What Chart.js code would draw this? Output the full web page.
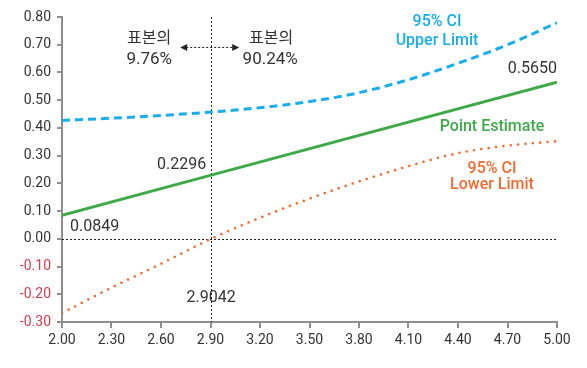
<!DOCTYPE html>
<html>
<head>
<meta charset="utf-8">
<script src="https://cdn.jsdelivr.net/npm/chart.js@4.4.1/dist/chart.umd.min.js"></script>
<style>
  html, body { margin: 0; padding: 0; background: #fff; }
  #wrap { width: 587px; height: 368px; }
</style>
</head>
<body>
<div id="wrap"><canvas id="c" width="587" height="368"></canvas></div>
<script>
// Predictor values where the curves are sampled
const xValues = [2.00, 2.30, 2.60, 2.9042, 3.20, 3.50, 3.80, 4.10, 4.40, 4.70, 5.00];
// 95% confidence interval, upper and lower limits
const upperLimit = [0.427, 0.435, 0.445, 0.457, 0.473, 0.495, 0.527, 0.574, 0.633, 0.700, 0.779];
const lowerLimit = [-0.268, -0.176, -0.090, 0.000, 0.076, 0.145, 0.207, 0.262, 0.309, 0.336, 0.352];
// Point estimate (straight line through the labelled values)
const estimateX = [2.00, 2.9042, 5.00];
const estimateY = [0.0849, 0.2296, 0.5650];
// Crossing point where the lower limit reaches zero
const crossX = 2.9042;
const shareLeft = '9.76%';
const shareRight = '90.24%';
// Axis ticks
const xTicks = [2.00, 2.30, 2.60, 2.90, 3.20, 3.50, 3.80, 4.10, 4.40, 4.70, 5.00];
const yTicks = [-0.30, -0.20, -0.10, 0.00, 0.10, 0.20, 0.30, 0.40, 0.50, 0.60, 0.70, 0.80];

const BLUE = '#19ade9';
const GREEN = '#3fa94a';
const ORANGE = '#f26a2f';
const RED = '#d93a4f';
const INK = '#333333';
const AXIS = '#8e8e8e';
const NUM_FONT = 'Roboto, "Noto Sans", sans-serif';
const KR_FONT = '"Noto Sans CJK KR", "Noto Sans", sans-serif';

const pts = (xs, ys) => xs.map((x, i) => ({ x: x, y: ys[i] }));

const overlay = {
  id: 'overlay',
  beforeDatasetsDraw(chart) {
    const ctx = chart.ctx;
    const xs = chart.scales.x, ys = chart.scales.y;
    const area = chart.chartArea;
    const cx = Math.round(xs.getPixelForValue(crossX)) + 0.5;
    const y0 = Math.round(ys.getPixelForValue(0)) + 0.5;
    ctx.save();
    ctx.strokeStyle = '#222';
    ctx.lineWidth = 1;
    ctx.setLineDash([2, 2]);
    // vertical reference at the crossing point
    ctx.beginPath();
    ctx.moveTo(cx, area.top);
    ctx.lineTo(cx, area.bottom);
    ctx.stroke();
    // zero line
    ctx.beginPath();
    ctx.moveTo(area.left, y0);
    ctx.lineTo(area.right, y0);
    ctx.stroke();
    ctx.restore();
  },
  afterDatasetsDraw(chart) {
    const ctx = chart.ctx;
    const xs = chart.scales.x, ys = chart.scales.y;
    const cx = xs.getPixelForValue(crossX);
    ctx.save();

    // double arrow across the crossing line
    const ay = 47.5;
    const aL = cx - 31, aR = cx + 28;
    ctx.strokeStyle = '#222';
    ctx.lineWidth = 1;
    ctx.setLineDash([2, 2]);
    ctx.beginPath();
    ctx.moveTo(aL + 6, ay);
    ctx.lineTo(aR - 6, ay);
    ctx.stroke();
    ctx.setLineDash([]);
    ctx.fillStyle = '#222';
    ctx.beginPath();
    ctx.moveTo(aL, ay); ctx.lineTo(aL + 7, ay - 3.5); ctx.lineTo(aL + 7, ay + 3.5); ctx.closePath(); ctx.fill();
    ctx.beginPath();
    ctx.moveTo(aR, ay); ctx.lineTo(aR - 7, ay - 3.5); ctx.lineTo(aR - 7, ay + 3.5); ctx.closePath(); ctx.fill();

    // sample share on each side
    ctx.textAlign = 'center';
    ctx.textBaseline = 'middle';
    ctx.fillStyle = INK;
    ctx.font = '16px ' + KR_FONT;
    ctx.fillText('표본의', cx - 62, 37);
    ctx.fillText('표본의', cx + 60, 37);
    ctx.font = '17px ' + NUM_FONT;
    ctx.fillText(shareLeft, cx - 62, 60);
    ctx.fillText(shareRight, cx + 59, 60);

    // value labels
    ctx.font = '16px ' + NUM_FONT;
    ctx.textAlign = 'right';
    ctx.fillText(estimateY[1].toFixed(4), cx - 5, ys.getPixelForValue(estimateY[1]) - 10);
    ctx.fillText(estimateY[2].toFixed(4), xs.getPixelForValue(5.00), ys.getPixelForValue(estimateY[2]) - 13);
    ctx.textAlign = 'left';
    ctx.fillText(estimateY[0].toFixed(4), xs.getPixelForValue(2.00) + 8, ys.getPixelForValue(estimateY[0]) + 12);
    ctx.textAlign = 'center';
    ctx.fillText(crossX.toFixed(4), cx, ys.getPixelForValue(-0.20) + 4);

    // series names
    ctx.font = '500 16px ' + NUM_FONT;
    ctx.fillStyle = BLUE;
    ctx.fillText('95% CI', 437, 22);
    ctx.fillText('Upper Limit', 437, 41);
    ctx.fillStyle = GREEN;
    ctx.fillText('Point Estimate', 492, 127);
    ctx.fillStyle = ORANGE;
    ctx.fillText('95% CI', 492, 169);
    ctx.fillText('Lower Limit', 492, 185);
    ctx.restore();
  }
};

new Chart(document.getElementById('c'), {
  type: 'scatter',
  data: {
    datasets: [
      {
        label: '95% CI Upper Limit',
        data: pts(xValues, upperLimit),
        showLine: true,
        borderColor: BLUE,
        borderWidth: 3,
        borderDash: [8, 5],
        pointRadius: 0,
        cubicInterpolationMode: 'monotone'
      },
      {
        label: 'Point Estimate',
        data: pts(estimateX, estimateY),
        showLine: true,
        borderColor: GREEN,
        borderWidth: 3,
        pointRadius: 0
      },
      {
        label: '95% CI Lower Limit',
        data: pts(xValues, lowerLimit),
        showLine: true,
        borderColor: ORANGE,
        borderWidth: 2.6,
        borderDash: [0.01, 7.4],
        borderCapStyle: 'round',
        pointRadius: 0,
        cubicInterpolationMode: 'monotone'
      }
    ]
  },
  options: {
    responsive: false,
    animation: false,
    events: [],
    layout: { padding: { left: 0, right: 30, top: 17, bottom: 0 } },
    plugins: {
      legend: { display: false },
      tooltip: { enabled: false }
    },
    scales: {
      x: {
        type: 'linear',
        min: 2,
        max: 5,
        afterBuildTicks: s => { s.ticks = xTicks.map(v => ({ value: v })); },
        afterFit: s => { s.height = 46; },
        grid: { drawOnChartArea: false, drawTicks: true, tickLength: 6, color: AXIS, lineWidth: 2 },
        border: { color: AXIS, width: 2 },
        ticks: {
          color: INK,
          font: { family: NUM_FONT, size: 14 },
          padding: 4,
          maxRotation: 0,
          callback: v => Number(v).toFixed(2)
        }
      },
      y: {
        type: 'linear',
        min: -0.3,
        max: 0.8,
        afterBuildTicks: s => { s.ticks = yTicks.map(v => ({ value: v })); },
        afterFit: s => { s.width = 62; },
        grid: { drawOnChartArea: false, drawTicks: true, tickLength: 5, color: AXIS, lineWidth: 2 },
        border: { color: AXIS, width: 2 },
        ticks: {
          color: c => (c.tick && c.tick.value < -1e-9 ? RED : INK),
          font: { family: NUM_FONT, size: 14 },
          padding: 6,
          callback: v => Number(v).toFixed(2)
        }
      }
    }
  },
  plugins: [overlay]
});
</script>
</body>
</html>
